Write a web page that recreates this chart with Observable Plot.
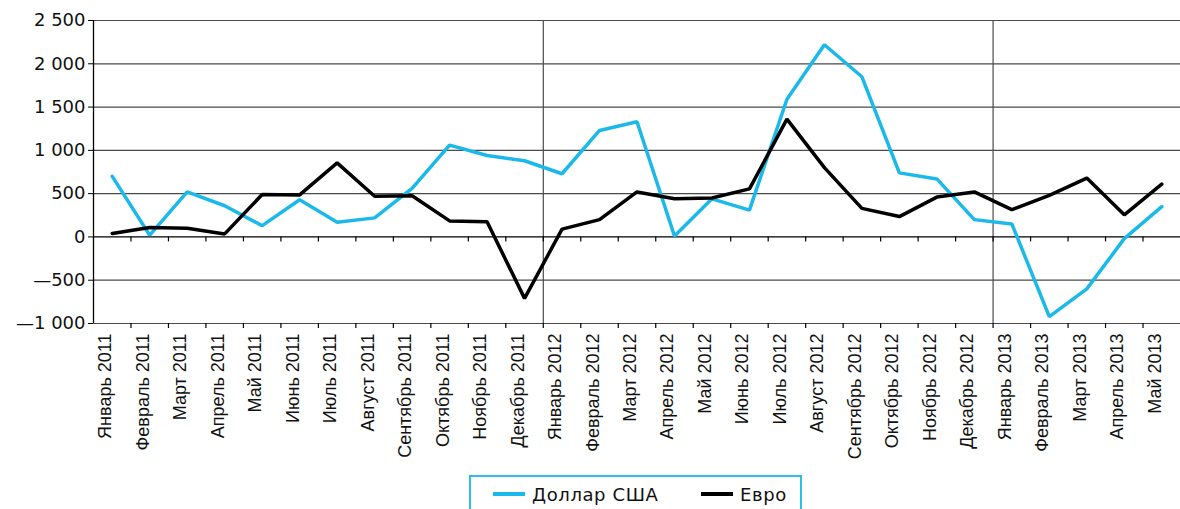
<!DOCTYPE html>
<html>
<head>
<meta charset="utf-8">
<script src="https://cdn.jsdelivr.net/npm/d3@7"></script>
<script src="https://cdn.jsdelivr.net/npm/@observablehq/plot@0.6"></script>
<style>
  html, body { margin: 0; padding: 0; background: #fff; }
  body { width: 1180px; height: 509px; overflow: hidden; position: relative; }
  #chart svg { display: block; }
  #legend { position: absolute; left: 469px; top: 475px; width: 333px; height: 40px;
            border: 2px solid #2fbdea; box-sizing: border-box; background: #fff;
            font-family: "DejaVu Sans", sans-serif; font-size: 18px; color: #111; }
  #legend .sw { position: absolute; top: 15px; width: 32px; height: 4px; }
  #legend .lb { position: absolute; top: 9px; line-height: 18px; white-space: nowrap; letter-spacing: 0.6px; }
</style>
</head>
<body>
<div id="chart"></div>
<div id="legend"></div>
<script>
// ---- data ----
const months = [
  "Январь 2011", "Февраль 2011", "Март 2011", "Апрель 2011", "Май 2011", "Июнь 2011",
  "Июль 2011", "Август 2011", "Сентябрь 2011", "Октябрь 2011", "Ноябрь 2011", "Декабрь 2011",
  "Январь 2012", "Февраль 2012", "Март 2012", "Апрель 2012", "Май 2012", "Июнь 2012",
  "Июль 2012", "Август 2012", "Сентябрь 2012", "Октябрь 2012", "Ноябрь 2012", "Декабрь 2012",
  "Январь 2013", "Февраль 2013", "Март 2013", "Апрель 2013", "Май 2013"
];
const usd = [700, 20, 520, 360, 130, 430, 170, 220, 560, 1060, 940, 880,
             730, 1230, 1330, 10, 440, 310, 1590, 2220, 1850, 740, 670, 200,
             150, -920, -600, -20, 350];
const eur = [40, 110, 100, 35, 490, 485, 855, 470, 475, 185, 175, -710,
             90, 200, 520, 440, 450, 555, 1360, 800, 330, 235, 460, 520,
             315, 480, 680, 255, 610];
const yTicks = [-1000, -500, 0, 500, 1000, 1500, 2000, 2500];
const seriesNames = ["Доллар США", "Евро"];
const seriesColors = ["#1bb9ea", "#000000"];

// ---- derived ----
const n = months.length;
const bounds = d3.range(1, n);                       // category boundaries
const yearBreaks = months.map((m, i) => i).filter(i => i > 0 && months[i].startsWith("Январь"));
const loc = d3.formatLocale({decimal: ",", thousands: "\u00a0", grouping: [3], currency: ["", ""]});
const f = loc.format(",d");
const fmtY = d => d < 0 ? "\u2014" + f(-d) : f(d);
const mid = (d, i) => i + 0.5;

const plot = Plot.plot({
  width: 1180,
  height: 475,
  marginLeft: 93,
  marginRight: 0,
  marginTop: 20,
  marginBottom: 152,
  style: {background: "#fff", overflow: "visible"},
  x: {type: "linear", domain: [0, n], axis: null},
  y: {domain: [-1000, 2500], axis: null},
  marks: [
    Plot.ruleY(yTicks.filter(t => t !== 0), {stroke: "#4a4a4a", strokeWidth: 1.2}),
    Plot.ruleX(yearBreaks, {stroke: "#4a4a4a", strokeWidth: 1.2}),
    Plot.ruleY([0], {stroke: "#000", strokeWidth: 1.3}),
    Plot.ruleX([0], {stroke: "#000", strokeWidth: 1.3}),
    Plot.ruleX(bounds, {y1: 0, y2: 0, insetBottom: -5, stroke: "#000", strokeWidth: 1.2}),
    Plot.ruleX(bounds, {y1: -1000, y2: -1000, insetBottom: -5, stroke: "#000", strokeWidth: 1.2}),
    Plot.axisY({ticks: yTicks, tickSize: 5, tickPadding: 3, tickFormat: fmtY,
                fontSize: 18, fontFamily: "DejaVu Sans", stroke: "#000", color: "#111"}),
    Plot.text(months, {x: mid, frameAnchor: "bottom", text: d => d, rotate: -90,
                       textAnchor: "end", dy: 10, dx: -1, fontSize: 18,
                       fontFamily: "Liberation Sans", fill: "#111"}),
    Plot.line(usd, {x: mid, y: d => d, stroke: seriesColors[0], strokeWidth: 3.5, strokeLinejoin: "miter"}),
    Plot.line(eur, {x: mid, y: d => d, stroke: seriesColors[1], strokeWidth: 3.5, strokeLinejoin: "miter"})
  ]
});
document.getElementById("chart").appendChild(plot);

// legend
const lg = document.getElementById("legend");
const pos = [{sw: 22, lb: 61}, {sw: 230, lb: 269}];
seriesNames.forEach((name, i) => {
  const s = document.createElement("div");
  s.className = "sw"; s.style.left = pos[i].sw + "px"; s.style.background = seriesColors[i];
  const t = document.createElement("div");
  t.className = "lb"; t.style.left = pos[i].lb + "px"; t.textContent = name;
  lg.appendChild(s); lg.appendChild(t);
});
</script>
</body>
</html>
